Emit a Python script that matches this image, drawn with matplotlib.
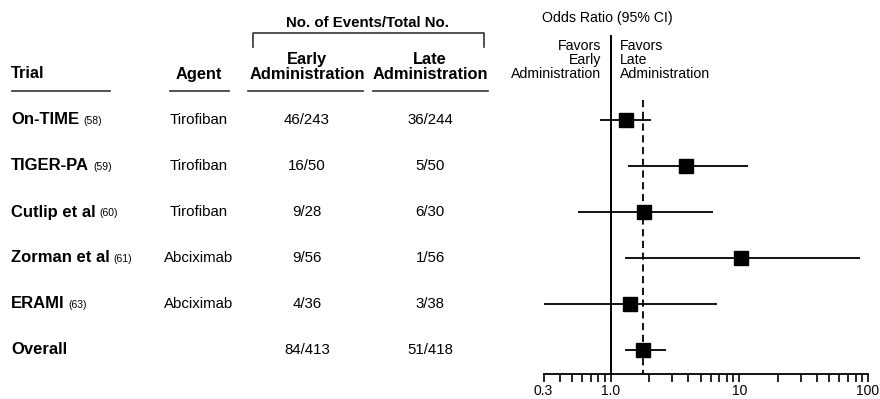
import matplotlib
matplotlib.use("Agg")
import matplotlib.pyplot as plt
import matplotlib.transforms as mtransforms
from matplotlib.ticker import FixedLocator, NullFormatter

plt.rcParams['font.family'] = ['Liberation Sans', 'DejaVu Sans']

# ---- data ----
trials = ["On-TIME", "TIGER-PA", "Cutlip et al", "Zorman et al", "ERAMI", "Overall"]
refs = ["(58)", "(59)", "(60)", "(61)", "(63)", ""]
agents = ["Tirofiban", "Tirofiban", "Tirofiban", "Abciximab", "Abciximab", ""]
early = ["46/243", "16/50", "9/28", "9/56", "4/36", "84/413"]
late = ["36/244", "5/50", "6/30", "1/56", "3/38", "51/418"]
odds = [1.32, 3.85, 1.81, 10.3, 1.41, 1.79]
ci_low = [0.82, 1.35, 0.56, 1.30, 0.29, 1.30]
ci_high = [2.05, 11.6, 6.2, 87.0, 6.7, 2.69]
xticks_major = [0.3, 1.0, 10, 100]
xtick_labels = ["0.3", "1.0", "10", "100"]
xticks_minor = [0.4, 0.5, 0.6, 0.7, 0.8, 0.9, 2, 3, 4, 5, 6, 7, 8, 9,
                20, 30, 40, 50, 60, 70, 80, 90]

W, H = 880, 399
fig = plt.figure(figsize=(W / 100, H / 100), dpi=100)

def fx(px):
    return px / W

def fy(py):
    return 1 - py / H

# forest axes
ax_left, ax_right = 543.5, 868
ax_top, ax_bot = 35, 374
ax = fig.add_axes([fx(ax_left), fy(ax_bot), fx(ax_right - ax_left), (ax_bot - ax_top) / H])
ax.set_xscale('log')
ax.set_xlim(0.3, 100)
row0_px, row_step = 120, 46
ylim_top = -(row0_px - ax_top) / row_step
ylim_bot = (ax_bot - row0_px) / row_step
ax.set_ylim(ylim_bot, ylim_top)

n = len(trials)
rows = list(range(n))
for i in rows:
    ax.plot([ci_low[i], ci_high[i]], [i, i], color='black', lw=1.3, solid_capstyle='butt', zorder=3)
    ax.plot([odds[i]], [i], marker='s', color='black', markersize=10.5, zorder=4, linestyle='none')

ax.axvline(1.0, color='black', lw=1.4, zorder=2)
ax.plot([odds[-1], odds[-1]], [-(row0_px - 100) / row_step, ylim_bot], color='black', lw=1.3,
        linestyle=(0, (4, 2.5)), zorder=2)

for s in ['top', 'right', 'left']:
    ax.spines[s].set_visible(False)
ax.spines['bottom'].set_linewidth(1.3)
ax.set_yticks([])
ax.xaxis.set_major_locator(FixedLocator(xticks_major))
ax.xaxis.set_minor_locator(FixedLocator(xticks_minor))
ax.set_xticklabels(xtick_labels)
ax.xaxis.set_minor_formatter(NullFormatter())
ax.tick_params(axis='x', which='both', direction='out', length=6, width=1.2, labelsize=10, pad=1)
ax.patch.set_alpha(0)

# headers of forest
fig.text(fx(607), fy(18), "Odds Ratio (95% CI)", ha='center', va='center', fontsize=10.2)
fig.text(fx(601), fy(60), "Favors\nEarly\nAdministration", ha='right', va='center',
         fontsize=10.2, linespacing=1.0, multialignment='right')
fig.text(fx(620), fy(60), "Favors\nLate\nAdministration", ha='left', va='center',
         fontsize=10.2, linespacing=1.0, multialignment='left')

# table
trans = mtransforms.blended_transform_factory(fig.transFigure, ax.transData)
col_trial, col_agent, col_early, col_late = 11, 199, 307, 430
fig.canvas.draw()
renderer = fig.canvas.get_renderer()
for i in rows:
    t = fig.text(fx(col_trial), i, trials[i], transform=trans, ha='left', va='center',
                 fontsize=12, fontweight='bold')
    if refs[i]:
        bb = t.get_window_extent(renderer=renderer)
        fig.text(fx(bb.x1 + 4), i + 0.03, refs[i], transform=trans, ha='left', va='center',
                 fontsize=7.5)
    fig.text(fx(col_agent), i, agents[i], transform=trans, ha='center', va='center', fontsize=10.8)
    fig.text(fx(col_early), i, early[i], transform=trans, ha='center', va='center', fontsize=10.8)
    fig.text(fx(col_late), i, late[i], transform=trans, ha='center', va='center', fontsize=10.8)

# column headers
hdr_kw = dict(fontsize=11.8, fontweight='bold', va='center')
fig.text(fx(col_trial), fy(74), "Trial", ha='left', **hdr_kw)
fig.text(fx(col_agent), fy(74), "Agent", ha='center', **hdr_kw)
fig.text(fx(col_early), fy(67), "Early\nAdministration", ha='center', linespacing=0.95, **hdr_kw)
fig.text(fx(col_late), fy(67), "Late\nAdministration", ha='center', linespacing=0.95, **hdr_kw)
fig.text(fx(367), fy(23), "No. of Events/Total No.", ha='center', va='center', fontsize=10.8,
         fontweight='bold')

# underlines
line_kw = dict(color='#333333', lw=1.2, transform=fig.transFigure)
for x0, x1 in [(12, 110), (170, 229), (248, 363), (373, 488)]:
    fig.add_artist(plt.Line2D([fx(x0), fx(x1)], [fy(91), fy(91)], **line_kw))
# bracket
fig.add_artist(plt.Line2D([fx(253), fx(253), fx(484), fx(484)],
                          [fy(47), fy(33), fy(33), fy(47)], color='#333333', lw=1.2,
                          transform=fig.transFigure))

fig.savefig("out.png", dpi=100)
